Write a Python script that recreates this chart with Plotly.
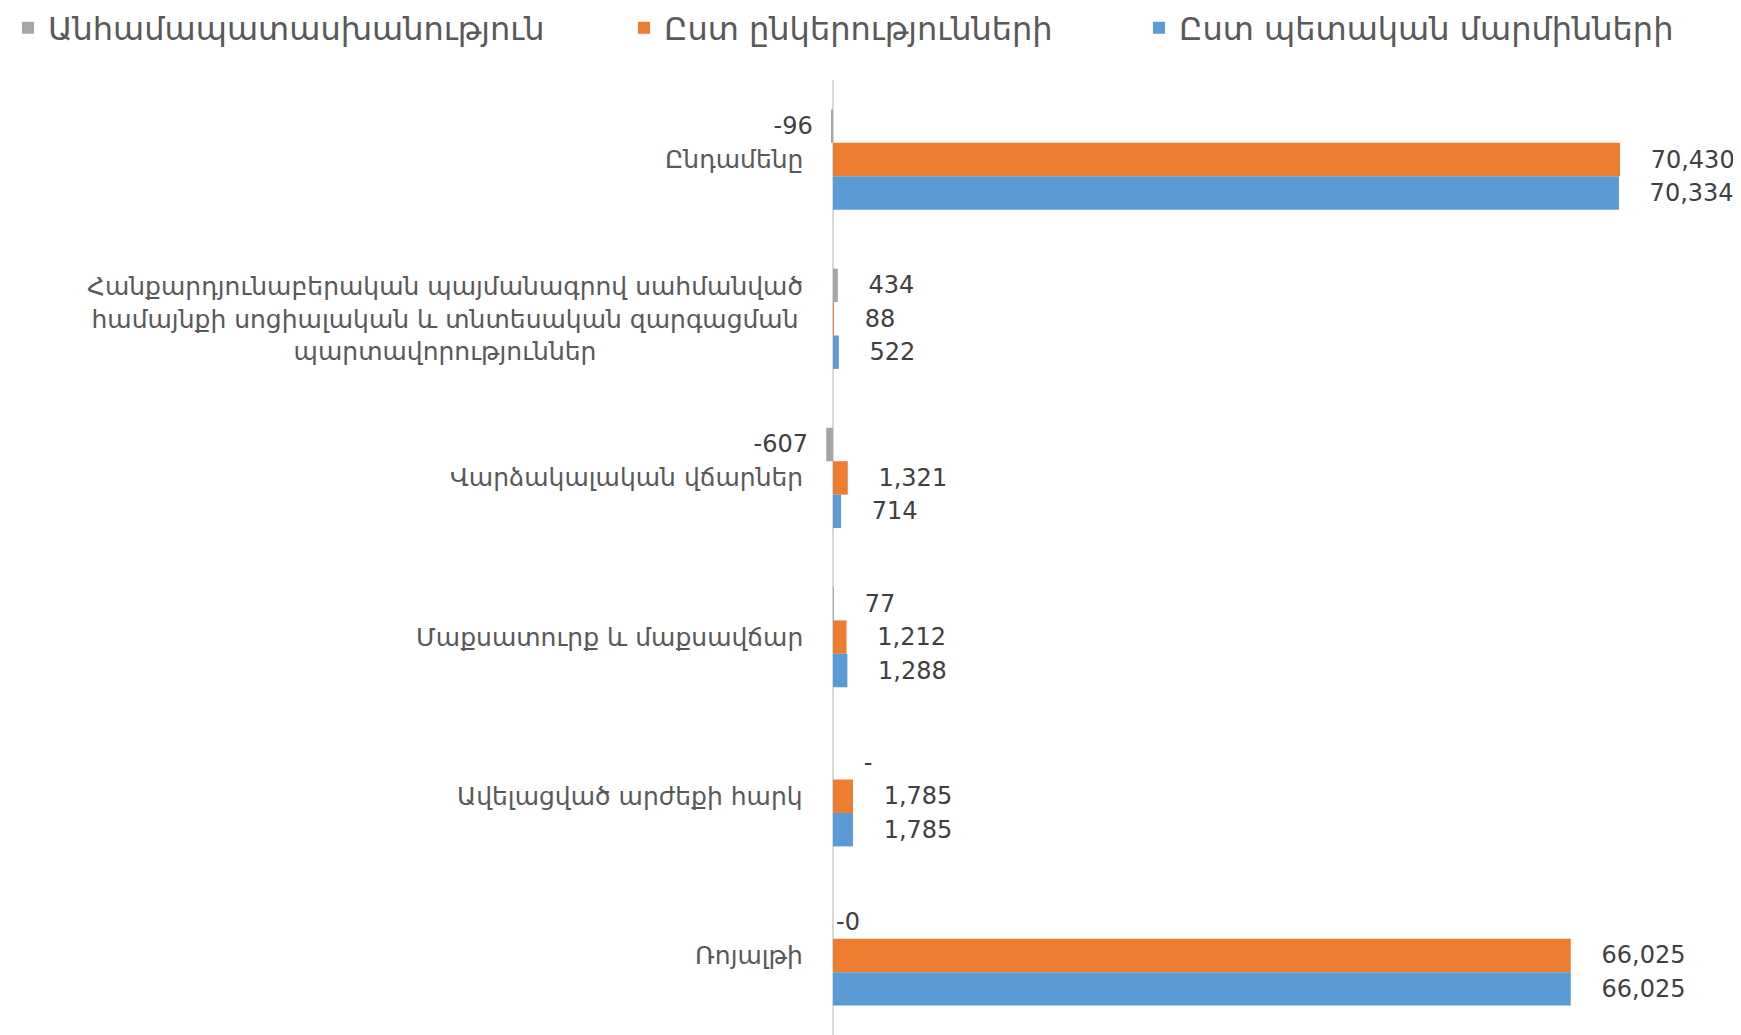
import math
import plotly.graph_objects as go

# ---- data ----
categories = [
    "Ընդամենը",
    "Հանքարդյունաբերական պայմանագրով սահմանված\nհամայնքի սոցիալական և տնտեսական զարգացման\nպարտավորություններ",
    "Վարձակալական վճարներ",
    "Մաքսատուրք և մաքսավճար",
    "Ավելացված արժեքի հարկ",
    "Ռոյալթի",
]
series_names = [
    "Անհամապատասխանություն",
    "Ըստ ընկերությունների",
    "Ըստ պետական մարմինների",
]
discrepancy = [-96, 434, -607, 77, 0, -0.0]
by_companies = [70430, 88, 1321, 1212, 1785, 66025]
by_government = [70334, 522, 714, 1288, 1785, 66025]

colors = ["#A5A5A5", "#ED7D31", "#5B9BD5"]

FONT = "DejaVu Sans, Noto Sans, sans-serif"


def fmt(v):
    if v == 0 and math.copysign(1, v) > 0:
        return "-"
    return f"{v:,.0f}"


PAD_POS = "\u00a0" * 3 + "\u2009"
PAD_NEG = "\u00a0" * 2


def label(v):
    s = fmt(v)
    return PAD_POS + s if math.copysign(1, v) > 0 else s + PAD_NEG


fig = go.Figure()
all_series = [discrepancy, by_companies, by_government]
legend_ids = ["legend", "legend2", "legend3"]
for name, vals, col, lg in zip(series_names, all_series, colors, legend_ids):
    fig.add_trace(go.Bar(
        y=categories,
        x=vals,
        name=name,
        orientation="h",
        marker=dict(color=col, line=dict(width=0)),
        text=[label(v) for v in vals],
        textposition="outside",
        textfont=dict(family=FONT, size=24, color="#404040"),
        constraintext="none",
        cliponaxis=False,
        legend=lg,
        showlegend=True,
        hoverinfo="x+y",
    ))

# category labels (centered multi-line)
for c in categories:
    fig.add_annotation(
        x=0, xref="paper", xanchor="right", xshift=-13,
        y=c, yref="y", yanchor="middle",
        text=c.replace("\n", "<br>"),
        showarrow=False, align="center",
        font=dict(family=FONT, size=25, color="#595959"),
    )

W, H = 1741, 1035
OFF = 8  # page body margin
L, R = 818 - OFF, 1650 - OFF
zero_px = 833 - OFF
px_per_unit = (1620 - OFF - zero_px) / 70430
xmin = -(zero_px - L) / px_per_unit
xmax = (R - zero_px) / px_per_unit

leg_common = dict(
    orientation="h", xref="container", yref="container",
    yanchor="middle", y=1 - 20 / H, xanchor="left",
    font=dict(family=FONT, size=32, color="#595959"),
    bgcolor="rgba(0,0,0,0)",
)
fig.update_layout(
    width=W, height=H,
    showlegend=True,
    margin=dict(l=L, r=W - R, t=72, b=8),
    paper_bgcolor="white", plot_bgcolor="white",
    barmode="group", bargap=0.37, bargroupgap=0,
    legend=dict(x=0.0, **leg_common),
    legend2=dict(x=616 / W, **leg_common),
    legend3=dict(x=1131 / W, **leg_common),
    xaxis=dict(range=[xmin, xmax], showticklabels=False, showgrid=False,
               zeroline=True, zerolinecolor="#D9D9D9", zerolinewidth=2,
               showline=False, ticks=""),
    yaxis=dict(type="category", categoryorder="array", categoryarray=categories,
               range=[len(categories) - 0.5, -0.5], showticklabels=False,
               showgrid=False, zeroline=False, showline=False, ticks=""),
)

fig.write_html("out.html")
